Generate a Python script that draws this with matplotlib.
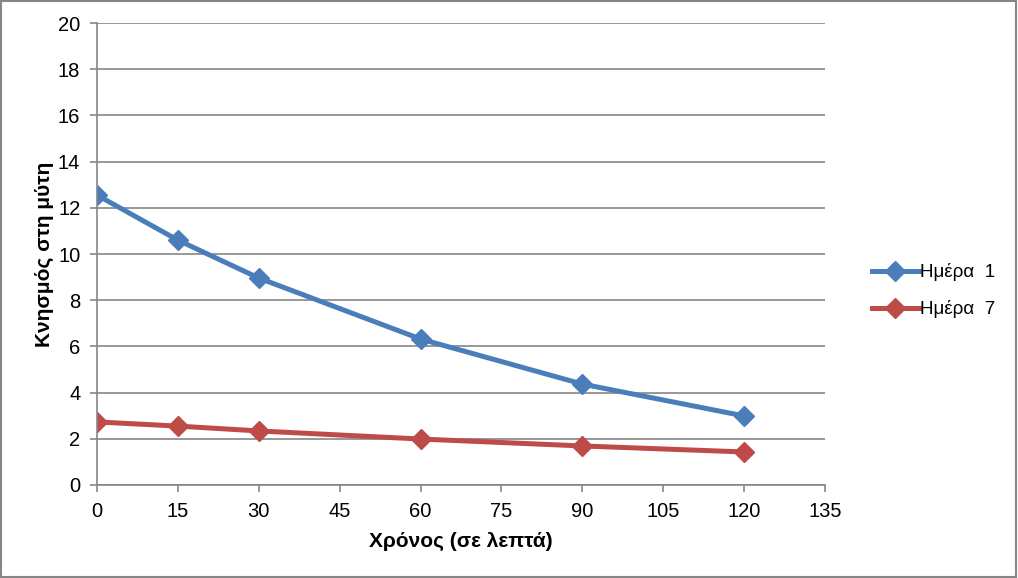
import matplotlib
matplotlib.use("Agg")
import matplotlib.pyplot as plt

plt.rcParams['font.family'] = ['Liberation Sans', 'DejaVu Sans']

minutes = [0, 15, 30, 60, 90, 120]
day1 = [12.55, 10.6, 8.96, 6.32, 4.37, 2.99]
day7 = [2.73, 2.55, 2.34, 1.99, 1.69, 1.43]
labels = ['Ημέρα  1', 'Ημέρα  7']

fig = plt.figure(figsize=(10.18, 5.78), dpi=100)
ax = fig.add_axes([0.0953, 0.1609, 0.715, 0.7993])

ax.plot(minutes, day1, color='#4A7EBB', lw=3.6, marker='D', ms=10, label=labels[0])
ax.plot(minutes, day7, color='#BE4B48', lw=3.6, marker='D', ms=10, label=labels[1])

ax.set_xlim(0, 135)
ax.set_ylim(0, 20)
ax.set_xticks(range(0, 136, 15))
ax.set_yticks(range(0, 21, 2))
ax.grid(axis='y', color='#868686', lw=1.2)
ax.set_axisbelow(True)
for s in ['top', 'right']:
    ax.spines[s].set_visible(False)
for s in ['left', 'bottom']:
    ax.spines[s].set_color('#868686')
    ax.spines[s].set_linewidth(1.2)
ax.tick_params(colors='#868686', labelcolor='black', labelsize=14.5, length=5, width=1.2, pad=7)

ax.set_xlabel('Χρόνος (σε λεπτά)', fontsize=15, fontweight='bold', labelpad=8)
ax.set_ylabel('Κνησμός στη μύτη', fontsize=15, fontweight='bold', labelpad=3)

fig.legend(loc='center left', bbox_to_anchor=(0.840, 0.497), frameon=False,
           fontsize=13.5, handlelength=2.5, handletextpad=0.05, labelspacing=1.0)

# outer border
fig.patches.append(plt.Rectangle((0.001, 0.002), 0.997, 0.996, transform=fig.transFigure,
                                 fill=False, edgecolor='#868686', lw=1.5))

fig.savefig('out.png', dpi=100)
